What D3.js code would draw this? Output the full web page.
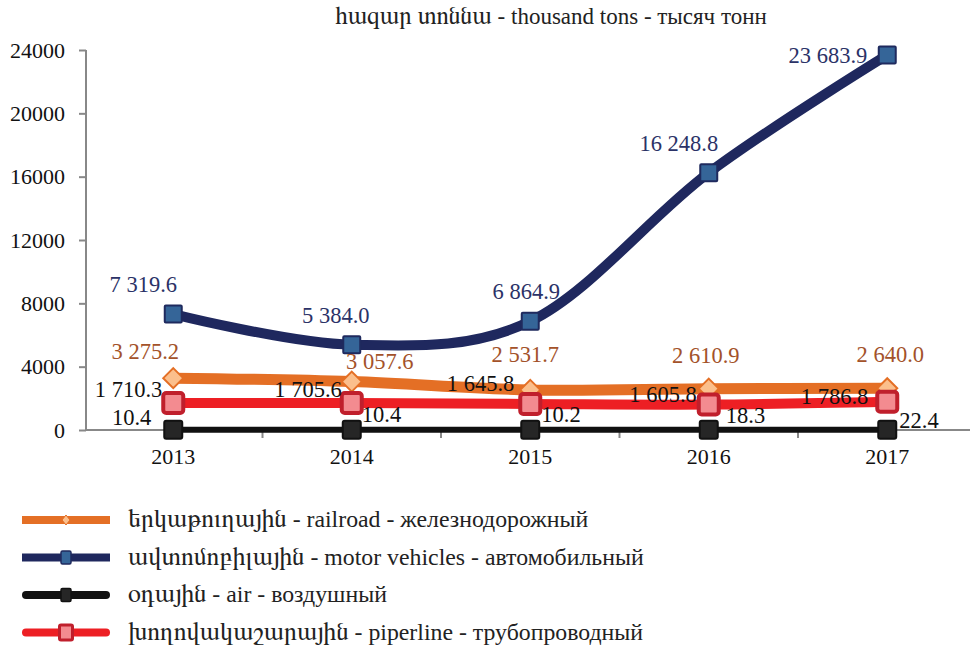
<!DOCTYPE html>
<html><head><meta charset="utf-8">
<script src="https://cdn.jsdelivr.net/npm/d3@7"></script>
<style>
body{margin:0;background:#fff;}
</style></head>
<body><svg id="c" width="970" height="645"></svg>
<script>
const years = ["2013","2014","2015","2016","2017"];
const railroad = [3275.2, 3057.6, 2531.7, 2610.9, 2640.0];
const motor = [7319.6, 5384.0, 6864.9, 16248.8, 23683.9];
const air = [10.4, 10.4, 10.2, 18.3, 22.4];
const pipeline = [1710.3, 1705.6, 1645.8, 1605.8, 1786.8];
const yTicks = [0, 4000, 8000, 12000, 16000, 20000, 24000];
const titleText = "հազար տոննա - thousand tons - тысяч тонн";
const legendNames = [
  "երկաթուղային - railroad - железнодорожный",
  "ավտոմոբիլային - motor vehicles - автомобильный",
  "օդային - air - воздушный",
  "խողովակաշարային - piperline - трубопроводный"
];

const FONT = '"Liberation Serif", "FreeSerif", "Times New Roman", serif';
const ARM = '"FreeSerif", "Noto Serif Armenian", serif';
const fmt = v => { const s = v.toFixed(1); const [i, d] = s.split("."); return i.replace(/\B(?=(\d{3})+(?!\d))/g, " ") + "." + d; };

function mixedText(sel, str) {
  const parts = str.match(/[\u0530-\u058F]+|[^\u0530-\u058F]+/g);
  parts.forEach(p => {
    const t = sel.append("tspan").text(p);
    if (/[\u0530-\u058F]/.test(p)) t.style("font-family", ARM).style("font-size", "1.08em");
    else t.style("font-family", FONT);
  });
}

const svg = d3.select("#c");
const x = d3.scaleBand().domain(years).range([84, 976.5]);
const y = d3.scaleLinear().domain([0, 24000]).range([430, 50]);
const cx = d => x(d) + x.bandwidth() / 2;

// title
const tt = svg.append("text").attr("x", 551).attr("y", 24).attr("text-anchor", "middle")
  .attr("font-size", 23).attr("fill", "#222").style("font-family", FONT);
mixedText(tt, titleText);

// y axis
const ya = svg.append("g").attr("transform", "translate(86,0)")
  .call(d3.axisLeft(y).tickValues(yTicks).tickSize(7).tickPadding(14).tickFormat(d3.format("d")));
ya.selectAll("path,line").attr("stroke", "#888").attr("stroke-width", 2);
ya.select("path").attr("d", "M0,50V430");
ya.selectAll("text").attr("font-size", 22).attr("fill", "#111").style("font-family", FONT);

// x axis
const xa = svg.append("g").attr("transform", "translate(0,430)")
  .call(d3.axisBottom(x).tickSize(0).tickPadding(18));
xa.select("path").attr("stroke", "#888").attr("stroke-width", 2).attr("d", "M86,0H970");
xa.selectAll("text").attr("font-size", 22).attr("fill", "#111").style("font-family", FONT);
svg.append("g").selectAll("line").data(years.slice(1)).join("line")
  .attr("x1", d => x(d)).attr("x2", d => x(d)).attr("y1", 430).attr("y2", 438)
  .attr("stroke", "#888").attr("stroke-width", 2);

const series = [
  {name: "rail", vals: railroad, line: "#e46f25", lw: 11, marker: "diamond", mfill: "#fbbf8c", mstroke: "#e46f25", msize: 20, msw: 2, label: "#a3522a"},
  {name: "motor", vals: motor, line: "#1f285e", lw: 10, marker: "square", mfill: "#356598", mstroke: "#1f2a5e", msize: 17, msw: 2, label: "#2b3267", rx: 1},
  {name: "air", vals: air, line: "#111111", lw: 6, marker: "square", mfill: "#262626", mstroke: "#111", msize: 18, msw: 2, label: "#111", rx: 2},
  {name: "pipe", vals: pipeline, line: "#ed1f24", lw: 10, marker: "square", mfill: "#f38b90", mstroke: "#c01f2c", msize: 20, msw: 4, label: "#111", rx: 3}
];

// label offsets relative to marker: [dx, dy(baseline), anchor]
const labelOffsets = {
  rail: [[-28,-19,"middle"],[28,-13,"middle"],[-5,-28,"middle"],[-3,-26,"middle"],[3,-26,"middle"]],
  motor: [[-30,-22,"middle"],[-16,-22,"middle"],[-4,-22,"middle"],[-30,-22,"middle"],[-20,8,"end"]],
  air: [[-22,-5,"end"],[10,-8,"start"],[11,-8,"start"],[17,-7,"start"],[12,-2,"start"]],
  pipe: [[-11,-6,"end"],[-10,-6,"end"],[-16,-13,"end"],[-12,-3,"end"],[-19,2,"end"]]
};

const lineGen = d3.line().x((d, i) => cx(years[i])).y(d => y(d)).curve(d3.curveCardinal.tension(0));

series.forEach(s => {
  svg.append("path").attr("d", lineGen(s.vals)).attr("fill", "none")
    .attr("stroke", s.line).attr("stroke-width", s.lw).attr("stroke-linejoin", "round");
  const g = svg.append("g");
  s.vals.forEach((v, i) => {
    const px = cx(years[i]), py = y(v), h = s.msize / 2;
    if (s.marker === "diamond") {
      g.append("path").attr("d", `M${px},${py-h}L${px+h},${py}L${px},${py+h}L${px-h},${py}Z`)
        .attr("fill", s.mfill).attr("stroke", s.mstroke).attr("stroke-width", s.msw);
    } else {
      g.append("rect").attr("x", px - h).attr("y", py - h).attr("width", s.msize).attr("height", s.msize)
        .attr("rx", s.rx).attr("fill", s.mfill).attr("stroke", s.mstroke).attr("stroke-width", s.msw);
    }
  });
});

series.forEach(s => {
  s.vals.forEach((v, i) => {
    const o = labelOffsets[s.name][i];
    svg.append("text").attr("x", cx(years[i]) + o[0]).attr("y", y(v) + o[1])
      .attr("text-anchor", o[2]).attr("font-size", 22.5).attr("fill", s.label)
      .style("font-family", FONT).text(fmt(v));
  });
});

// legend
const lg = svg.append("g");
series.forEach((s, i) => {
  const ly = 520 + i * 37.5;
  const cap = (s.name === "air" || s.name === "pipe") ? "round" : "butt";
  lg.append("line").attr("x1", cap === "round" ? 26 : 22).attr("x2", cap === "round" ? 106 : 110)
    .attr("y1", ly).attr("y2", ly).attr("stroke", s.line).attr("stroke-width", 8).attr("stroke-linecap", cap);
  const mx = 66;
  if (s.marker === "diamond") {
    lg.append("path").attr("d", `M${mx},${ly-5}L${mx+4},${ly}L${mx},${ly+5}L${mx-4},${ly}Z`)
      .attr("fill", s.mfill).attr("stroke", s.mstroke).attr("stroke-width", 1);
  } else {
    const w = s.name === "pipe" ? 13 : 10, hh = s.name === "pipe" ? 15 : 13;
    lg.append("rect").attr("x", mx - w/2).attr("y", ly - hh/2).attr("width", w).attr("height", hh)
      .attr("rx", 1.5).attr("fill", s.mfill).attr("stroke", s.mstroke).attr("stroke-width", s.name === "pipe" ? 3 : 1.5);
  }
  const t = lg.append("text").attr("x", 128).attr("y", ly + 7).attr("font-size", 23.8).attr("fill", "#222")
    .style("font-family", FONT);
  mixedText(t, legendNames[i]);
});
</script></body></html>
